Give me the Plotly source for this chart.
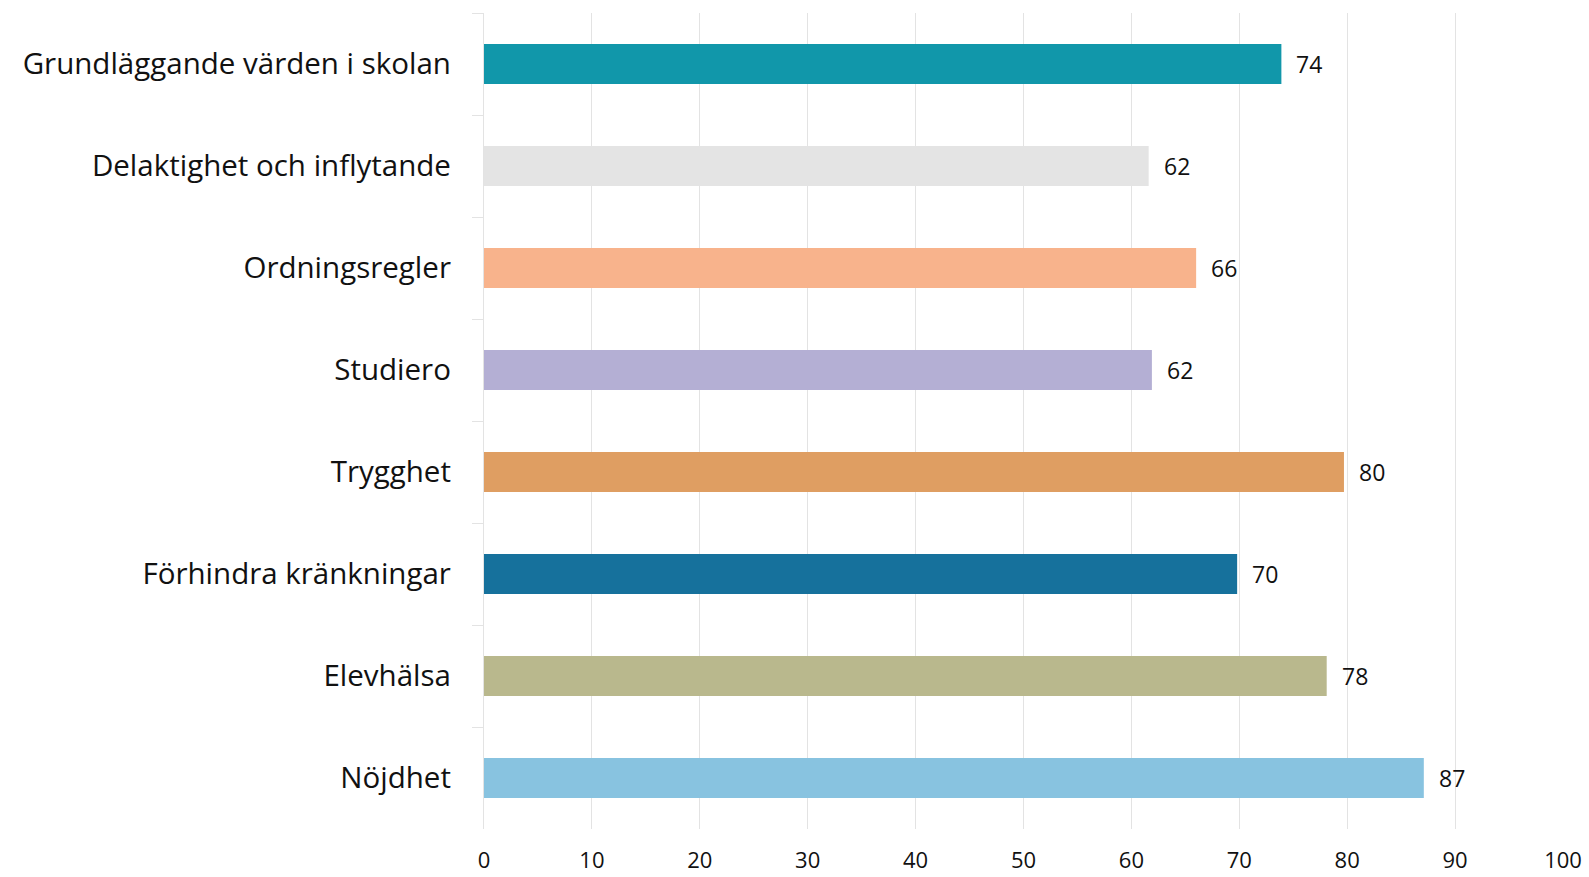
import plotly.graph_objects as go

categories = ["Grundläggande värden i skolan", "Delaktighet och inflytande", "Ordningsregler",
              "Studiero", "Trygghet", "Förhindra kränkningar", "Elevhälsa", "Nöjdhet"]
values = [73.9, 61.6, 66.0, 61.9, 79.7, 69.8, 78.1, 87.1]
labels = ["74", "62", "66", "62", "80", "70", "78", "87"]
colors = ["#1197AA", "#E4E4E4", "#F8B38C", "#B4AFD4", "#DF9E62", "#16719C", "#B9B88D", "#88C3E0"]
x_ticks = [0, 10, 20, 30, 40, 50, 60, 70, 80, 90, 100]

FONT = "Open Sans"

fig = go.Figure()
fig.add_trace(go.Bar(
    x=values, y=categories, orientation="h",
    marker=dict(color=colors, line=dict(width=0)),
    hoverinfo="skip",
))

for v, c, t in zip(values, categories, labels):
    fig.add_annotation(x=v, y=c, text=t, showarrow=False, xanchor="left", yanchor="middle",
                       xshift=13, font=dict(family=FONT, size=23, color="#111111"))

fig.update_layout(
    width=1589, height=877,
    margin=dict(l=484, r=26, t=13, b=48),
    paper_bgcolor="white", plot_bgcolor="white",
    bargap=0.61,
    showlegend=False,
    font=dict(family=FONT, color="#111111"),
)
fig.update_xaxes(
    range=[0, 100], tickvals=x_ticks, ticktext=[str(t) for t in x_ticks],
    showgrid=True, gridcolor="#E3E3E3", gridwidth=1.3,
    zeroline=False, showline=False, ticks="",
    tickfont=dict(family=FONT, size=22, color="#111111"),
    ticklabelstandoff=16,
    automargin=False,
    fixedrange=True,
)
fig.update_yaxes(
    autorange="reversed", type="category",
    showgrid=False, zeroline=False,
    showline=True, linecolor="#E3E3E3", linewidth=1.3,
    ticks="outside", tickson="boundaries", ticklen=11, tickcolor="#E3E3E3", tickwidth=1.3,
    tickfont=dict(family=FONT, size=29.5, color="#111111"),
    ticklabelstandoff=26,
    automargin=False,
    fixedrange=True,
)

fig.write_html("out.html", config={"displayModeBar": False},
               post_script="document.body.style.margin='0';document.body.style.padding='0';")
